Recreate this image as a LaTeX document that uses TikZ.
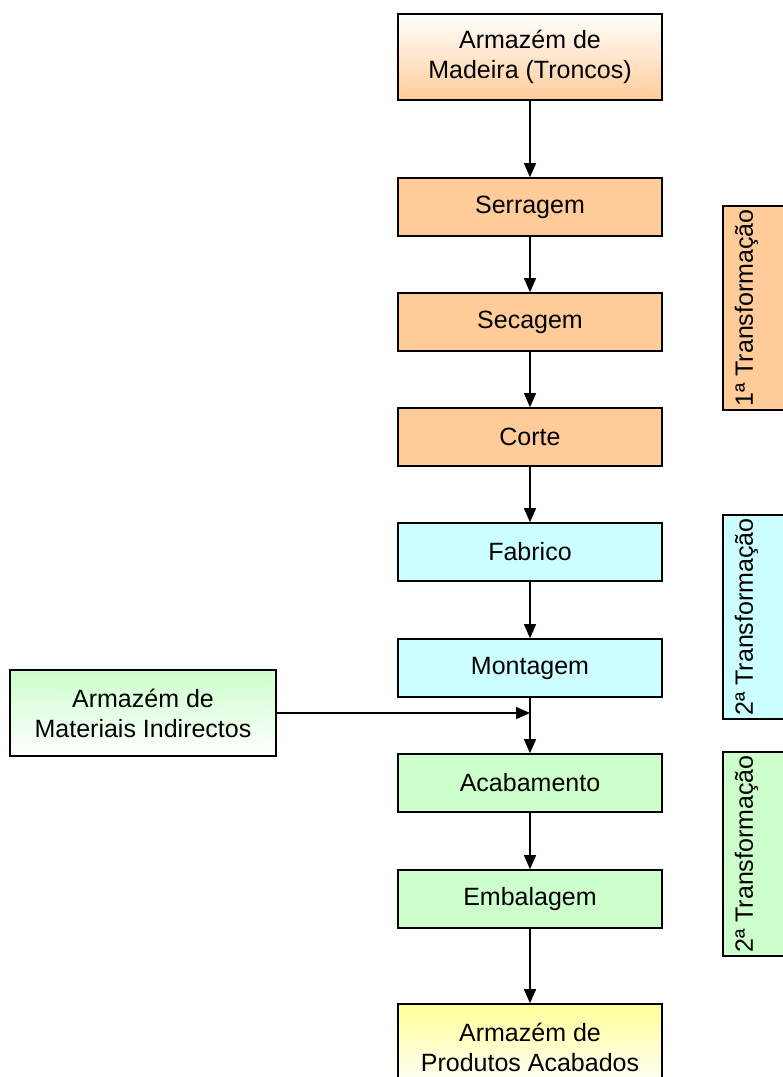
\documentclass[tikz,border=0pt]{standalone}
\usepackage{fontspec}
\setmainfont{Liberation Sans}
\usetikzlibrary{arrows.meta}
\definecolor{peach}{HTML}{FFCC99}
\definecolor{paleblue}{HTML}{CCFFFF}
\definecolor{palegreen}{HTML}{CCFFCC}
\definecolor{paleyellow}{HTML}{FFFF99}

\begin{document}
\begin{tikzpicture}[x=1pt, y=1pt,
    font=\fontsize{25}{30}\selectfont,
    box/.style={rectangle, draw, line width=1.6pt, minimum width=264pt, minimum height=58pt, inner sep=0pt, align=center},
    store/.style={box, minimum height=86pt},
    phase/.style={rectangle, draw, line width=1.6pt, rotate=90, anchor=north, minimum width=200pt, text height=26pt, text depth=40pt, inner ysep=4pt},
    flow/.style={line width=1.3pt, -{Triangle[length=14pt, width=12pt]}}]

    \useasboundingbox (0,0) rectangle (783,-1077);
    \clip (0,0) rectangle (783,-1077);

    % Log storage
    \node[store, top color=white, bottom color=peach] (LOGS) at (530,-57) {Armazém de\\Madeira (Troncos)};

    % First transformation
    \node[box, fill=peach] (SAW) at (530,-207) {Serragem};
    \node[box, fill=peach] (DRY) at (530,-322) {Secagem};
    \node[box, fill=peach] (CUT) at (530,-437) {Corte};

    % Second transformation
    \node[box, fill=paleblue] (MAKE) at (530,-552) {Fabrico};
    \node[box, fill=paleblue] (ASSY) at (530,-668) {Montagem};
    \node[box, fill=palegreen] (FIN) at (530,-783) {Acabamento};
    \node[box, fill=palegreen] (PACK) at (530,-899) {Embalagem};

    % Finished goods
    \node[store, top color=paleyellow, bottom color=white] (GOODS) at (530,-1047) {Armazém de\\Produtos Acabados};

    % Indirect materials
    \node[store, minimum width=266pt, top color=palegreen, bottom color=white] (MAT) at (143,-713) {Armazém de\\Materiais Indirectos};

    % Phase labels
    \node[phase, fill=peach] (PH1) at (722,-308) {1ª Transformação};
    \node[phase, fill=paleblue] (PH2) at (722,-617) {2ª Transformação};
    \node[phase, fill=palegreen] (PH3) at (722,-854) {2ª Transformação};

    % Connections
    \foreach \a/\b in {LOGS/SAW, SAW/DRY, DRY/CUT, CUT/MAKE, MAKE/ASSY, ASSY/FIN, FIN/PACK, PACK/GOODS} {
        \draw[flow] (\a) -- (\b);
    }

    \coordinate (JOIN) at (ASSY.south |- MAT.east);
    \draw[flow] (MAT.east) -- (JOIN);
\end{tikzpicture}
\end{document}
